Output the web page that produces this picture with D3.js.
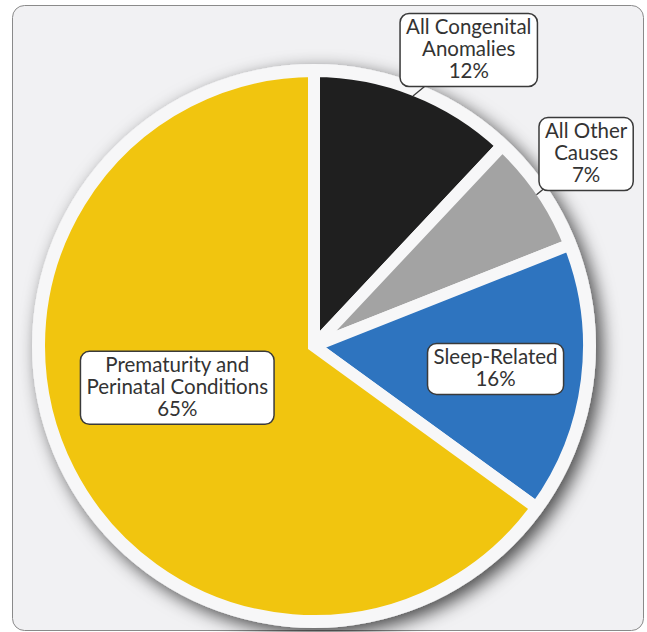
<!DOCTYPE html>
<html lang="en">
<head>
<meta charset="UTF-8"/>
<title>Causes of infant death</title>
<script src="https://d3js.org/d3.v7.min.js"></script>
<style>
    body { margin: 0; background: #fff; }
    text {
        font-family: Lato, "Open Sans", sans-serif;
        font-size: 20.5px;
        fill: #333;
    }
</style>
</head>
<body>
<script>
    // chart data
    var categories = ["All Congenital Anomalies", "All Other Causes", "Sleep-Related", "Prematurity and Perinatal Conditions"];
    var categoryLines = [["All Congenital", "Anomalies"], ["All Other", "Causes"], ["Sleep-Related"], ["Prematurity and", "Perinatal Conditions"]];
    var shares = [12, 7, 16, 65];
    var colors = ["#1f1f1f", "#a3a3a3", "#2e74bf", "#f1c50f"];

    // label placement: distance from centre, turn (degrees) off the slice middle, outside => leader line
    var placement = [
        {r: 334, turn: 6, outside: true},
        {r: 333, turn: -1, outside: true},
        {r: 183, turn: 0, outside: false},
        {r: 143, turn: 10, outside: false}
    ];

    var W = 647, H = 632;
    var cx = 314, cy = 346, radius = 275;

    var svg = d3.select("body").append("svg")
        .attr("width", W)
        .attr("height", H);

    var defs = svg.append("defs");
    var f = defs.append("filter").attr("id", "shadow")
        .attr("x", "-20%").attr("y", "-20%").attr("width", "140%").attr("height", "140%");
    f.append("feDropShadow")
        .attr("dx", 6).attr("dy", 6)
        .attr("stdDeviation", 9)
        .attr("flood-color", "#000")
        .attr("flood-opacity", 0.7);

    // panel
    svg.append("rect")
        .attr("x", 12.5).attr("y", 5.5)
        .attr("width", 631).attr("height", 625)
        .attr("rx", 12)
        .attr("fill", "#f1f1f3")
        .attr("stroke", "#8a8a8a")
        .attr("stroke-width", 1);

    var g = svg.append("g").attr("transform", "translate(" + cx + "," + cy + ")");

    // white disc behind the slices
    g.append("circle")
        .attr("r", radius + 7)
        .attr("fill", "#f7f7f8")
        .attr("filter", "url(#shadow)");

    var pie = d3.pie().sort(null).value(function (d) { return d; });
    var arcs = pie(shares);
    var arc = d3.arc().innerRadius(0).outerRadius(radius);

    g.selectAll("path.slice")
        .data(arcs)
        .enter()
        .append("path")
        .attr("class", "slice")
        .attr("d", arc)
        .attr("fill", function (d, i) { return colors[i]; })
        .attr("stroke", "#f7f7f8")
        .attr("stroke-width", 12)
        .attr("stroke-linejoin", "miter");

    function polar(angle, r) {
        return [Math.sin(angle) * r, -Math.cos(angle) * r];
    }

    var lineH = 22;

    arcs.forEach(function (d, i) {
        var mid = (d.startAngle + d.endAngle) / 2;
        var p = placement[i];
        var pos = polar(mid + p.turn * Math.PI / 180, p.r);
        var lines = categoryLines[i].concat([shares[i] + "%"]);

        if (p.outside) {
            var edge = polar(mid, radius - 6);
            g.append("line")
                .attr("x1", edge[0]).attr("y1", edge[1])
                .attr("x2", pos[0]).attr("y2", pos[1])
                .attr("stroke", "#3c3c3c")
                .attr("stroke-width", 1.3);
        }

        var lab = g.append("g").attr("transform", "translate(" + pos[0] + "," + pos[1] + ")");
        var box = lab.append("rect");
        var txt = lab.append("text").attr("text-anchor", "middle");
        var top = -lines.length * lineH / 2;
        lines.forEach(function (s, k) {
            txt.append("tspan")
                .attr("x", 0)
                .attr("y", top + (k + 1) * lineH - 5)
                .text(s);
        });
        var bw = 0;
        txt.selectAll("tspan").each(function () {
            bw = Math.max(bw, this.getComputedTextLength());
        });
        var bh = lines.length * lineH + 7;
        box.attr("x", -bw / 2 - 6)
            .attr("y", -bh / 2)
            .attr("width", bw + 12)
            .attr("height", bh)
            .attr("rx", 9)
            .attr("fill", "#fff")
            .attr("stroke", "#3a3a3a")
            .attr("stroke-width", 1.5);
    });
</script>
</body>
</html>
